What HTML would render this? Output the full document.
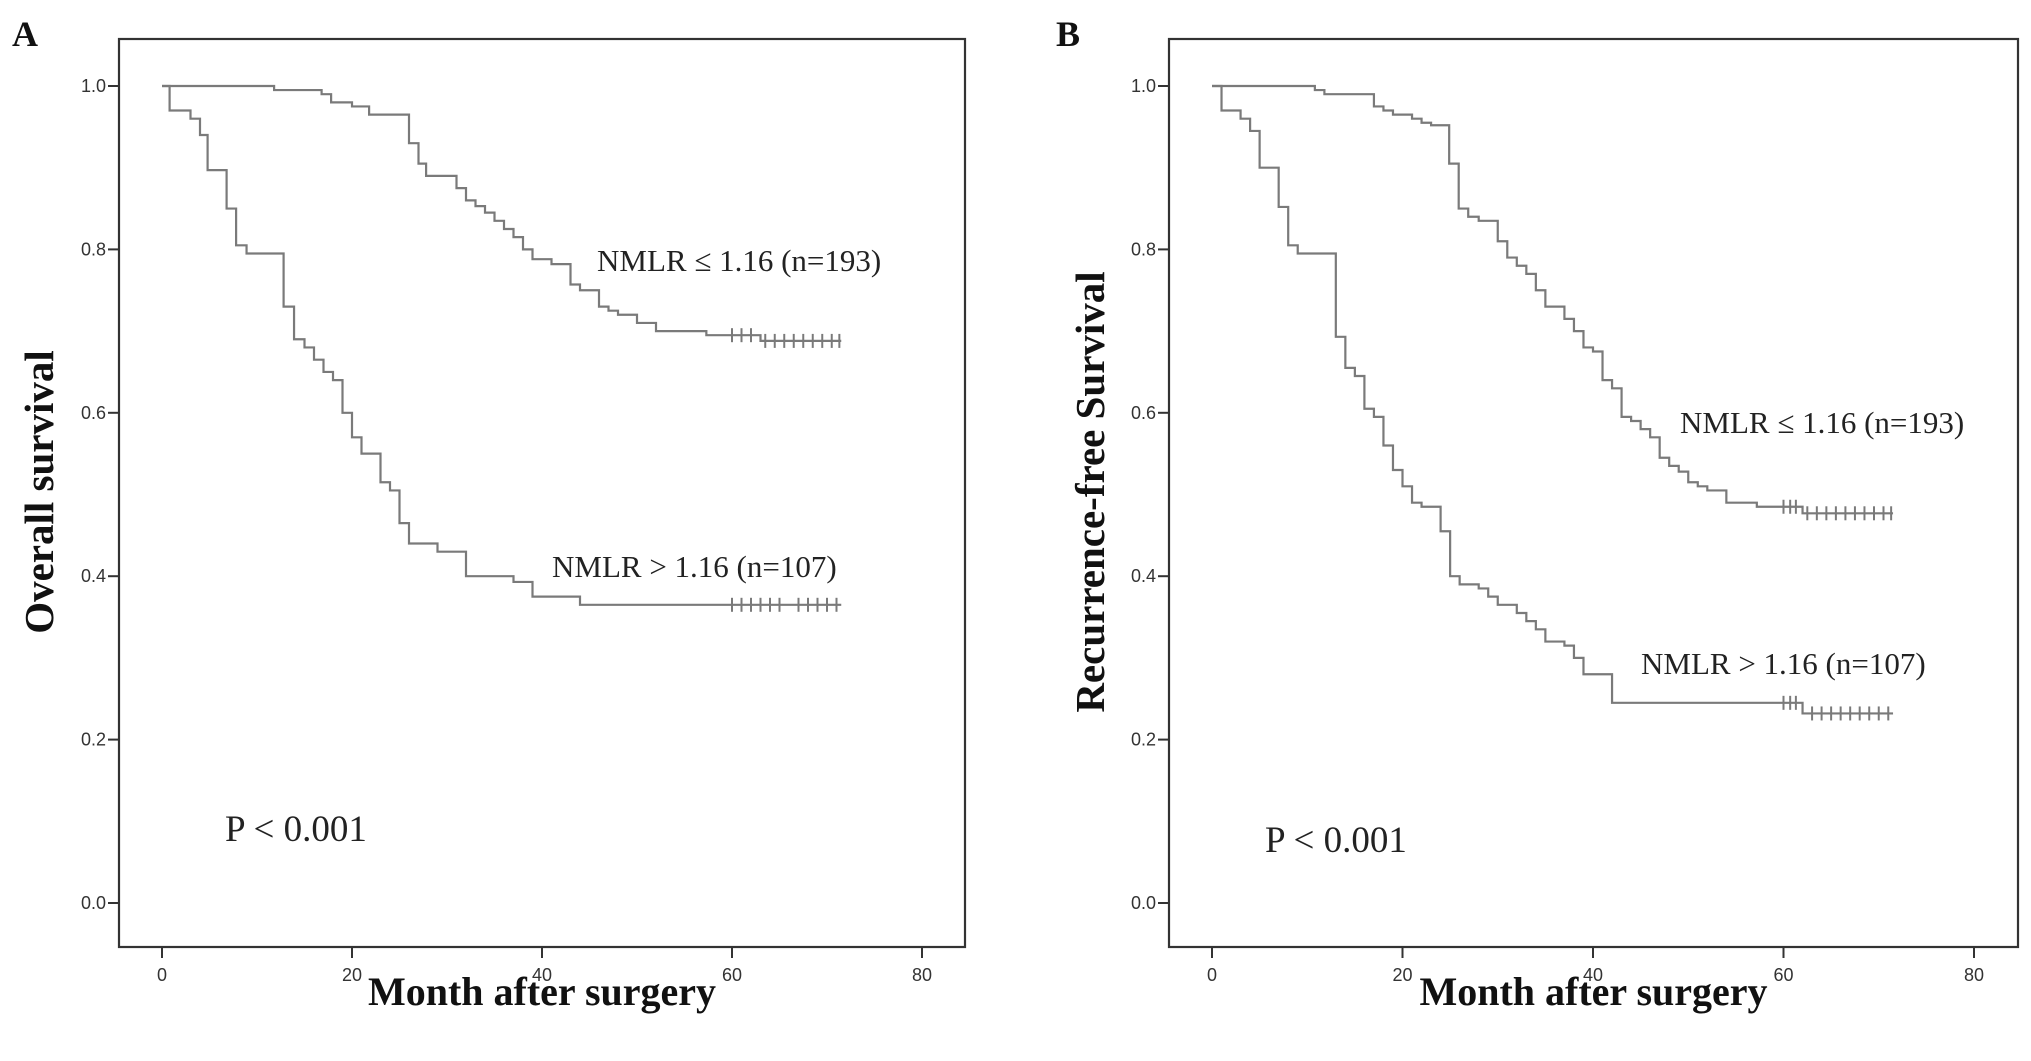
<!DOCTYPE html>
<html><head><meta charset="utf-8"><style>
html,body{margin:0;padding:0;background:#fff;}
svg{display:block;}
</style></head><body>
<svg id="fig" width="2031" height="1061" viewBox="0 0 2031 1061" xmlns="http://www.w3.org/2000/svg"></svg>
<script>
// Panel A - overall survival
const aLowTimes = [0, 11.8, 16.8, 17.8, 20, 21.8, 26, 27, 27.8, 31, 32, 33, 34, 35, 36, 37, 38, 39, 41, 43, 44, 46, 47, 48, 50, 52, 57.3, 63];
const aLowSurv  = [1.0, 0.995, 0.99, 0.98, 0.975, 0.965, 0.93, 0.905, 0.89, 0.875, 0.86, 0.853, 0.845, 0.835, 0.825, 0.815, 0.80, 0.788, 0.782, 0.757, 0.75, 0.73, 0.725, 0.72, 0.71, 0.70, 0.695, 0.688];
const aLowCensor = [60, 61, 62, 63.5, 64.5, 65.5, 66.5, 67.5, 68.5, 69.5, 70.5, 71.3];
const aHighTimes = [0, 0.8, 3, 4, 4.8, 6.8, 7.8, 8.9, 12.8, 13.9, 15, 16, 17, 18, 19, 20, 21, 23, 24, 25, 26, 29, 32, 37, 39, 44];
const aHighSurv  = [1.0, 0.97, 0.96, 0.94, 0.897, 0.85, 0.805, 0.795, 0.73, 0.69, 0.68, 0.665, 0.65, 0.64, 0.60, 0.57, 0.55, 0.515, 0.505, 0.465, 0.44, 0.43, 0.40, 0.393, 0.375, 0.365];
const aHighCensor = [60, 61, 62, 63, 64, 65, 67, 68, 69, 70, 71];
// Panel B - recurrence-free survival
const bLowTimes = [0, 10.8, 11.8, 17, 18, 19, 21, 22, 23, 24.9, 25.9, 26.9, 28, 30, 31, 32, 33, 34, 35, 37, 38, 39, 40, 41, 42, 43, 44, 45, 46, 47, 48, 49, 50, 51, 52, 54, 57.2, 62];
const bLowSurv  = [1.0, 0.995, 0.99, 0.975, 0.97, 0.965, 0.96, 0.955, 0.952, 0.905, 0.85, 0.84, 0.835, 0.81, 0.79, 0.78, 0.77, 0.75, 0.73, 0.715, 0.70, 0.68, 0.675, 0.64, 0.63, 0.595, 0.59, 0.58, 0.57, 0.545, 0.535, 0.528, 0.515, 0.51, 0.505, 0.49, 0.485, 0.477];
const bLowCensor = [60, 60.7, 61.3, 62.5, 63.5, 64.5, 65.5, 66.5, 67.5, 68.5, 69.5, 70.5, 71.3];
const bHighTimes = [0, 1, 3, 4, 5, 7, 8, 9, 13, 14, 15, 16, 17, 18, 19, 20, 21, 22, 24, 25, 26, 28, 29, 30, 32, 33, 34, 35, 37, 38, 39, 42, 62];
const bHighSurv  = [1.0, 0.97, 0.96, 0.945, 0.90, 0.852, 0.805, 0.795, 0.693, 0.655, 0.645, 0.605, 0.595, 0.56, 0.53, 0.51, 0.49, 0.485, 0.455, 0.40, 0.39, 0.385, 0.375, 0.365, 0.355, 0.345, 0.335, 0.32, 0.315, 0.30, 0.28, 0.245, 0.232];
const bHighCensor = [60, 60.7, 61.3, 63, 64, 65, 66, 67, 68, 69, 70, 71];
const xTicks = [0, 20, 40, 60, 80];
const yTicks = [0.0, 0.2, 0.4, 0.6, 0.8, 1.0];
const endMonth = 71.5;

const NS = 'http://www.w3.org/2000/svg';
const svg = document.getElementById('fig');
function mk(tag, attrs, parent, text) {
  const e = document.createElementNS(NS, tag);
  for (const k in attrs) e.setAttribute(k, attrs[k]);
  if (text !== undefined) e.textContent = text;
  (parent || svg).appendChild(e);
  return e;
}

function panel(cfg) {
  const g = mk('g', {});
  
  
  const xs = m => cfg.x0 + (m / 80) * (cfg.x80 - cfg.x0);
  const ys = v => cfg.y0 + v * (cfg.y1 - cfg.y0);
  const box = mk('rect', {x: cfg.left, y: cfg.top, width: cfg.right - cfg.left, height: cfg.bottom - cfg.top, fill: 'none', stroke: '#333', 'stroke-width': 2.2}, g);
  
  
  yTicks.forEach(t => {
    const l = mk('line', {x1: cfg.left - 11, x2: cfg.left, y1: ys(t), y2: ys(t), stroke: '#333', 'stroke-width': 2}, g);
    
    
    const tx = mk('text', {x: cfg.left - 13, y: ys(t) + 6, 'text-anchor': 'end', 'font-family': 'Liberation Sans, sans-serif', 'font-size': 18, fill: '#333'}, g, t.toFixed(1));
    
    
  });
  xTicks.forEach(t => {
    const l = mk('line', {x1: xs(t), x2: xs(t), y1: cfg.bottom, y2: cfg.bottom + 11, stroke: '#333', 'stroke-width': 2}, g);
    
    
    const tx = mk('text', {x: xs(t), y: cfg.bottom + 34, 'text-anchor': 'middle', 'font-family': 'Liberation Sans, sans-serif', 'font-size': 18, fill: '#333'}, g, String(t));
    
    
  });
  function curve(times, surv, censor, name) {
    let d = 'M' + xs(times[0]) + ',' + ys(surv[0]);
    for (let i = 1; i < times.length; i++) {
      d += ' H' + xs(times[i]) + ' V' + ys(surv[i]);
    }
    d += ' H' + xs(endMonth);
    const p = mk('path', {d: d, fill: 'none', stroke: '#7a7a7a', 'stroke-width': 2.2}, g);
    
    
    censor.forEach(c => {
      let v = surv[0];
      for (let i = 0; i < times.length; i++) if (times[i] <= c) v = surv[i];
      const l = mk('line', {x1: xs(c), x2: xs(c), y1: ys(v) - 7, y2: ys(v) + 7, stroke: '#7a7a7a', 'stroke-width': 2}, g);
      
      
    });
  }
  curve(cfg.lowT, cfg.lowS, cfg.lowC, 'nmlr-low');
  curve(cfg.highT, cfg.highS, cfg.highC, 'nmlr-high');
  const serif = 'Liberation Serif, serif';
  let t;
  t = mk('text', {x: cfg.lowLab[0], y: cfg.lowLab[1], 'font-family': serif, 'font-size': 31, fill: '#222'}, g, 'NMLR ≤ 1.16 (n=193)');
   
  t = mk('text', {x: cfg.highLab[0], y: cfg.highLab[1], 'font-family': serif, 'font-size': 31, fill: '#222'}, g, 'NMLR > 1.16 (n=107)');
   
  t = mk('text', {x: cfg.pLab[0], y: cfg.pLab[1], 'font-family': serif, 'font-size': 37, fill: '#222'}, g, 'P < 0.001');
   
  t = mk('text', {x: cfg.letter[0], y: cfg.letter[1], 'font-family': serif, 'font-size': 36, 'font-weight': 'bold', fill: '#111'}, g, cfg.letterText);
   
  t = mk('text', {x: (cfg.left + cfg.right) / 2, y: 1005, 'text-anchor': 'middle', 'font-family': serif, 'font-size': 40, 'font-weight': 'bold', fill: '#111'}, g, 'Month after surgery');
   
  t = mk('text', {x: 0, y: 0, 'text-anchor': 'middle', 'font-family': serif, 'font-size': 41, 'font-weight': 'bold', fill: '#111', transform: 'translate(' + cfg.ytPos[0] + ',' + cfg.ytPos[1] + ') rotate(-90)'}, g, cfg.yTitle);
   
}

panel({id: 'overall-survival', left: 119, top: 39, right: 965, bottom: 947, x0: 162, x80: 922, y0: 903, y1: 86,
  lowT: aLowTimes, lowS: aLowSurv, lowC: aLowCensor, highT: aHighTimes, highS: aHighSurv, highC: aHighCensor,
  lowLab: [597, 271], highLab: [552, 577], pLab: [225, 841], letter: [12, 46], letterText: 'A',
  ytPos: [53, 492], yTitle: 'Overall survival'});
panel({id: 'recurrence-free-survival', left: 1169, top: 39, right: 2018, bottom: 947, x0: 1212, x80: 1974, y0: 903, y1: 86,
  lowT: bLowTimes, lowS: bLowSurv, lowC: bLowCensor, highT: bHighTimes, highS: bHighSurv, highC: bHighCensor,
  lowLab: [1680, 433], highLab: [1641, 674], pLab: [1265, 852], letter: [1056, 46], letterText: 'B',
  ytPos: [1104, 492], yTitle: 'Recurrence-free Survival'});
</script>
</body></html>
